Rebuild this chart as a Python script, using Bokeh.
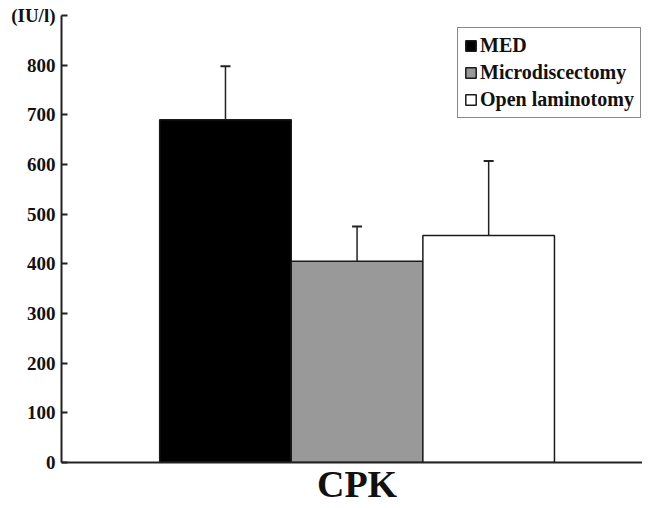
from bokeh.plotting import figure
from bokeh.models import Range1d, Whisker, ColumnDataSource, Legend, LegendItem, FixedTicker
from bokeh.embed import file_html
from bokeh.resources import INLINE

groups = ["MED", "Microdiscectomy", "Open laminotomy"]
means = [690, 405, 457]
sds = [108, 70, 150]
colors = ["#000000", "#999999", "#ffffff"]
xpos = [1, 2, 3]
yticks = [0, 100, 200, 300, 400, 500, 600, 700, 800, 900]
category_label = "CPK"

FONT = "Liberation Serif"

p = figure(width=642, height=508, output_backend="svg", toolbar_location=None,
           x_range=Range1d(-0.246, 4.169), y_range=Range1d(0, 900),
           min_border_left=61, min_border_right=0, min_border_top=15, min_border_bottom=46)
p.grid.visible = False
p.outline_line_color = None

src = ColumnDataSource(dict(x=xpos, top=means, color=colors, name=groups,
                            upper=[m + s for m, s in zip(means, sds)]))
items = []
for i, g in enumerate(groups):
    r = p.vbar(x=[xpos[i]], top=[means[i]], width=1.0, bottom=0,
               fill_color=colors[i], line_color="#1a1a1a", line_width=1.5)
    items.append(LegendItem(label=g, renderers=[r]))

w = Whisker(source=src, base="x", lower="top", upper="upper",
            line_color="#222222", line_width=1.5, lower_head=None)
w.upper_head.size = 10
w.upper_head.line_width = 2
w.upper_head.line_color = "#222222"
p.add_layout(w)

legend = Legend(items=items, location=(396, 344))
legend.label_text_font = FONT
legend.label_text_font_style = "bold"
legend.label_text_font_size = "20px"
legend.label_text_color = "#111111"
legend.glyph_width = 13
legend.glyph_height = 13
legend.label_standoff = 3
legend.label_height = 22
legend.spacing = 4
legend.padding = 6
legend.border_line_color = "#111111"
legend.border_line_width = 1.5
legend.background_fill_alpha = 1
p.add_layout(legend)

ya = p.yaxis[0]
ya.ticker = FixedTicker(ticks=yticks)
ya.major_label_overrides = {900: "(IU/l)"}
ya.major_label_text_font = FONT
ya.major_label_text_font_style = "bold"
ya.major_label_text_font_size = "19px"
ya.major_label_text_color = "#111111"
ya.major_tick_in = 6
ya.major_tick_out = 0
ya.minor_tick_in = 0
ya.minor_tick_out = 0
ya.major_label_standoff = 6
ya.axis_line_width = 2
ya.axis_line_color = "#222222"
ya.major_tick_line_width = 2
ya.major_tick_line_color = "#222222"

xa = p.xaxis[0]
xa.ticker = FixedTicker(ticks=[2])
xa.major_label_overrides = {2: category_label}
xa.major_label_text_font = FONT
xa.major_label_text_font_style = "bold"
xa.major_label_text_font_size = "38px"
xa.major_label_text_color = "#111111"
xa.major_label_standoff = 0
xa.major_tick_in = 0
xa.major_tick_out = 0
xa.minor_tick_in = 0
xa.minor_tick_out = 0
xa.axis_line_width = 2
xa.axis_line_color = "#222222"

open("out.html", "w").write(file_html(p, INLINE))
